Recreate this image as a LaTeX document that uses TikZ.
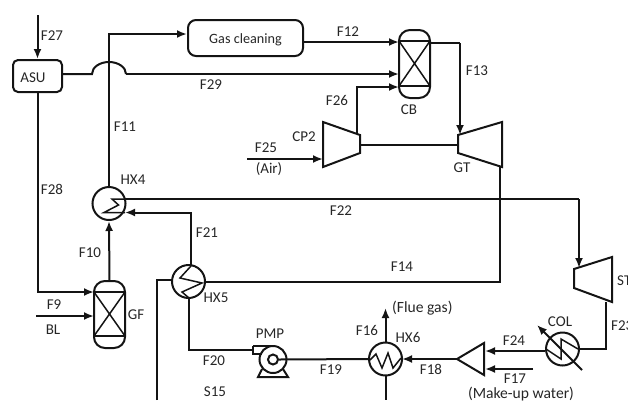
\documentclass[tikz,border=0pt]{standalone}
\usepackage{fontspec}
\setmainfont{Carlito}
\usetikzlibrary{arrows.meta}
\tikzset{
 x=1pt,y=-1pt,
 ln/.style={line width=2pt,draw=black!92,line join=miter},
 flow/.style={ln,-{Latex[length=10pt,width=8pt]}},
 thinln/.style={line width=1.5pt,draw=black!92},
 lab/.style={font=\fontsize{15}{16}\selectfont,text=black!85,inner sep=0pt},
 longlab/.style={lab,font=\fontsize{15.6}{16}\selectfont},
 box/.style={ln,rounded corners=5pt},
 hx/.style={ln,draw,circle,minimum size=33pt,inner sep=0pt},
}
\begin{document}
\begin{tikzpicture}
\useasboundingbox (0,0) rectangle (628,400);
% nodes / equipment
\node[box,draw,minimum width=49pt,minimum height=32pt,inner sep=0pt] (asu) at (37.5,76) {};
\node[lab] at (33,78) {ASU};
\node[box,draw,rounded corners=8pt,minimum width=115pt,minimum height=36pt,inner sep=0pt] (gc) at (245.5,38) {};
\node[lab,font=\fontsize{14.2}{16}\selectfont] at (245.5,40) {Gas cleaning};
% vessels
\draw[ln,rounded corners=11pt] (94,281) rectangle (125,348);
\draw[ln] (94,292)--(125,292) (94,336)--(125,336);
\draw[thinln] (94,292)--(125,336) (94,336)--(125,292);
\draw[ln,rounded corners=11pt] (399,30) rectangle (430,98);
\draw[ln] (399,41)--(430,41) (399,86)--(430,86);
\draw[thinln] (399,41)--(430,86) (399,86)--(430,41);
\coordinate (gfT) at (109.5,281);
% heat exchangers
\node[hx] (hxf) at (109,203.5) {};
\node[hx] (hxv) at (188.5,281.5) {};
\node[hx] (hxs) at (385.5,359) {};
\node[hx] (col) at (562.5,349) {};
\draw[thinln] (126,199)--(112,199)--(118.5,205)--(104,212.5)--(125,212.5);
\draw[thinln] (191,266)--(180,278)--(202,283)--(182,292)--(189,298);
\draw[thinln] (370,360)--(376,354)--(382,368)--(388,353)--(393,368)--(401,358);
\draw[thinln] (546,349)--(561,359)--(561,339)--(578,349);
% turbines
\draw[ln] (323,122)--(360,135)--(360,153)--(323,167)--cycle;
\draw[ln] (458,135)--(502,122)--(502,167)--(458,153)--cycle;
\draw[ln] (574,269)--(612,257)--(612,302)--(574,288)--cycle;
\draw[ln] (457,359)--(484,343)--(484,375)--cycle;
% pump
\node[ln,draw,circle,minimum size=27pt,inner sep=0pt] (pmp) at (273,359.5) {};
\node[ln,draw,circle,minimum size=10pt,inner sep=0pt] (imp) at (273,359.5) {};
\draw[ln] (253,345.5)--(271,345.5) (253,345.5)--(253,354)--(262,354);
\draw[ln] (262,369)--(258,377)--(288,377)--(283,369);
% connectors
\coordinate (a) at (37.5,15);
\draw[flow] (a)--(asu.north);
\draw[ln] (asu.east |- 0,74)--(92,74) arc[start angle=180,end angle=360,x radius=17,y radius=12];
\draw[flow] (126,74)--(399,74);
\draw[flow] (37.5,92)--(37.5,292)--(94,292);
\draw[flow] (36,316)--(94,316);
\draw[flow] (gfT)--(hxf.south);
\draw[flow] (hxf.north)--(109,34)--(gc.west |- 0,34);
\draw[flow] (gc.east |- 0,42)--(399,42);
\draw[ln] (430,43)--(460,43);
\draw[flow] (460,43)--(460,135);
\draw[ln] (360,145)--(458,145);
\draw[flow] (357,134)--(357,87)--(399,87);
\draw[flow] (247,159)--(323,159);
\draw[ln] (500,167)--(500,282)--(hxv.east |- 0,282);
\draw[flow] (191,265)--(191,212.5)--(125,212.5);
\draw[ln] (125,199)--(579,199);
\draw[flow] (579,199)--(579,268);
\draw[ln] (606,302)--(606,349)--(col.east);
\draw[flow] (col.west |- 0,351)--(485,351);
\draw[flow] (533,369)--(485,369);
\draw[flow] (457,359)--(402,359);
\draw[flow] (385.5,343)--(385.5,308);
\draw[ln] (385.5,375)--(385.5,400);
\draw[ln] (370,359)--(imp.east);
\draw[ln] (189,298)--(189,350)--(253,350);
\draw[ln] (157,400)--(157,279.5)--(172,279.5);
\draw[flow] (582,370)--(537,325);
% labels
\node[lab] at (52,36) {F27};
\node[lab] at (52,189) {F28};
\node[lab] at (211,85) {F29};
\node[lab] at (125,127) {F11};
\node[lab] at (133,180) {HX4};
\node[lab] at (348,32) {F12};
\node[lab] at (477,71) {F13};
\node[lab] at (337,100) {F26};
\node[lab] at (409,110) {CB};
\node[lab] at (304,137) {CP2};
\node[lab] at (266,148) {F25};
\node[lab] at (269,169) {(Air)};
\node[lab] at (462,168) {GT};
\node[lab] at (341,211) {F22};
\node[lab] at (207,233) {F21};
\node[lab] at (90,253) {F10};
\node[lab] at (402,267) {F14};
\node[lab] at (54,305) {F9};
\node[lab] at (53,330) {BL};
\node[lab] at (136,315) {GF};
\node[lab] at (216,298) {HX5};
\node[lab] at (270,334) {PMP};
\node[lab] at (214,361) {F20};
\node[lab] at (215,392) {S15};
\node[lab] at (331,370) {F19};
\node[lab] at (367,330) {F16};
\node[longlab,anchor=west] at (392,308) {(Flue gas)};
\node[lab] at (408,337) {HX6};
\node[lab] at (431,369) {F18};
\node[lab] at (514,341) {F24};
\node[lab] at (515,379) {F17};
\node[longlab] at (521,394.5) {(Make-up water)};
\node[lab] at (560,322) {COL};
\node[lab,anchor=west] at (617,281) {ST};
\node[lab,anchor=west] at (611,326) {F23};
\end{tikzpicture}
\end{document}
